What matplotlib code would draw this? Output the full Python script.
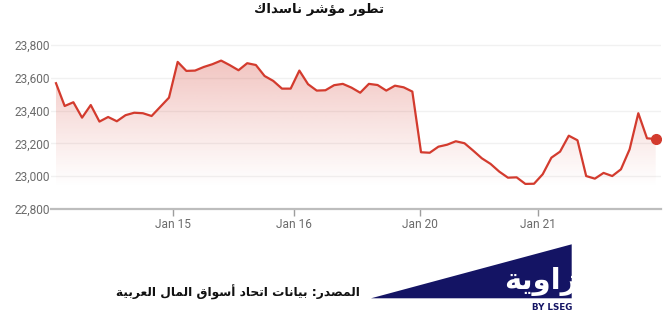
import numpy as np
import matplotlib
matplotlib.use("Agg")
import matplotlib.pyplot as plt
from matplotlib.patches import Polygon
from matplotlib.colors import to_rgb

# ---------------- data ----------------
title_text = "تطور مؤشر ناسداك"
source_text = "المصدر: بيانات اتحاد أسواق المال العربية"
logo_text = "زاوية"
logo_sub = "BY LSEG"

# Nasdaq composite, 30-minute points (14 per session), Jan 14 -> Jan 22
values = [
    23567, 23428, 23451, 23357, 23434, 23333, 23361, 23335, 23372, 23387, 23384, 23367, 23423, 23479,
    23697, 23642, 23644, 23666, 23683, 23705, 23677, 23646, 23689, 23678, 23611, 23581, 23534, 23534,
    23644, 23561, 23522, 23524, 23555, 23563, 23540, 23509, 23563, 23556, 23522, 23552, 23542, 23516,
    23146, 23143, 23180, 23192, 23213, 23201, 23156, 23109, 23075, 23028, 22991, 22993, 22953, 22954,
    23012, 23113, 23150, 23247, 23219, 23001, 22985, 23020, 23001, 23042, 23164, 23384, 23231, 23227,
]
tick_labels = ["Jan 15", "Jan 16", "Jan 20", "Jan 21"]
tick_pos = [13.43, 27.42, 41.89, 55.43]
y_ticks = [22800, 23000, 23200, 23400, 23600, 23800]

# ---------------- arabic shaping (presentation forms, visual order) ----------------
FORMS = {
    'ا': ('\uFE8D', '\uFE8E', None, None),
    'أ': ('\uFE83', '\uFE84', None, None),
    'ب': ('\uFE8F', '\uFE90', '\uFE91', '\uFE92'),
    'ة': ('\uFE93', '\uFE94', None, None),
    'ت': ('\uFE95', '\uFE96', '\uFE97', '\uFE98'),
    'ح': ('\uFEA1', '\uFEA2', '\uFEA3', '\uFEA4'),
    'د': ('\uFEA9', '\uFEAA', None, None),
    'ر': ('\uFEAD', '\uFEAE', None, None),
    'ز': ('\uFEAF', '\uFEB0', None, None),
    'س': ('\uFEB1', '\uFEB2', '\uFEB3', '\uFEB4'),
    'ش': ('\uFEB5', '\uFEB6', '\uFEB7', '\uFEB8'),
    'ص': ('\uFEB9', '\uFEBA', '\uFEBB', '\uFEBC'),
    'ط': ('\uFEC1', '\uFEC2', '\uFEC3', '\uFEC4'),
    'ع': ('\uFEC9', '\uFECA', '\uFECB', '\uFECC'),
    'ق': ('\uFED5', '\uFED6', '\uFED7', '\uFED8'),
    'ك': ('\uFED9', '\uFEDA', '\uFEDB', '\uFEDC'),
    'ل': ('\uFEDD', '\uFEDE', '\uFEDF', '\uFEE0'),
    'م': ('\uFEE1', '\uFEE2', '\uFEE3', '\uFEE4'),
    'ن': ('\uFEE5', '\uFEE6', '\uFEE7', '\uFEE8'),
    'و': ('\uFEED', '\uFEEE', None, None),
    'ؤ': ('\uFE85', '\uFE86', None, None),
    'ي': ('\uFEF1', '\uFEF2', '\uFEF3', '\uFEF4'),
}


def shape(text):
    out = []
    for i, c in enumerate(text):
        if c not in FORMS:
            out.append(c)
            continue
        prev = text[i - 1] if i > 0 else None
        nxt = text[i + 1] if i + 1 < len(text) else None
        jp = prev in FORMS and FORMS[prev][2] is not None
        jn = FORMS[c][2] is not None and nxt in FORMS
        iso, fin, ini, med = FORMS[c]
        out.append(med if (jp and jn) else fin if jp else ini if jn else iso)
    return ''.join(reversed(out))


# ---------------- figure ----------------
W, H = 672, 318
fig = plt.figure(figsize=(W / 100, H / 100), dpi=100)


def fx(px):
    return px / W


def fy(py):
    return (H - py) / H


ax_left, ax_right = 50.6, 661.0
ax_bottom_px, ax_top_px = 209.0, 36.0
ax = fig.add_axes([fx(ax_left), fy(ax_bottom_px), fx(ax_right - ax_left), (ax_bottom_px - ax_top_px) / H])

x = np.arange(len(values))
line_color = '#d33b2e'
y0 = 22800
y1 = y0 + (ax_bottom_px - ax_top_px) / 32.8 * 200
xlim = (-0.62, len(values) - 1 + 0.61)

# gridlines
for yt in y_ticks[1:]:
    ax.axhline(yt, color='#f1f1f1', lw=1.0, zorder=0)

# gradient fill under line
verts = [(x[0], y0)] + list(zip(x, values)) + [(x[-1], y0)]
poly = Polygon(verts, closed=True, facecolor='none', edgecolor='none', transform=ax.transData)
ax.add_patch(poly)
n = 256
ys = np.linspace(y0, 23760, n)
alpha = np.clip((ys - 22930) / (23760 - 22930), 0, 1) ** 1.1 * 0.32
rgba = np.zeros((n, 1, 4))
rgba[..., :3] = to_rgb(line_color)
rgba[:, 0, 3] = alpha
im = ax.imshow(rgba, extent=[xlim[0], xlim[1], y0, 23760], origin='lower', aspect='auto', zorder=1,
               interpolation='bilinear')
im.set_clip_path(poly)

ax.plot(x, values, color=line_color, lw=1.6, zorder=3, solid_joinstyle='round')
ax.plot([x[-1]], [values[-1]], 'o', color=line_color, ms=7, zorder=4)

ax.set_xlim(*xlim)
ax.set_ylim(y0, y1)

for s in ['top', 'right', 'left']:
    ax.spines[s].set_visible(False)
ax.spines['bottom'].set_color('#bdbdbd')
ax.spines['bottom'].set_linewidth(1.6)

ax.set_yticks(y_ticks)
ax.set_yticklabels([f"{v:,}" for v in y_ticks])
ax.tick_params(axis='y', length=0, pad=0.5, labelsize=8.6, labelcolor='#6b6b6b')
ax.set_xticks(tick_pos)
ax.set_xticklabels(tick_labels)
ax.tick_params(axis='x', length=5, width=1, color='#9e9e9e', pad=1.5, labelsize=8.6, labelcolor='#6b6b6b')
for lab in ax.get_xticklabels() + ax.get_yticklabels():
    lab.set_fontfamily('Roboto')

# title
fig.text(fx(319), fy(10), shape(title_text), ha='center', va='center', fontsize=9.6,
         fontweight='bold', family=['DejaVu Sans'], color='#111111')

# source
fig.text(fx(360), fy(292), shape(source_text), ha='right', va='center', fontsize=8.8,
         fontweight='bold', family=['DejaVu Sans'], color='#111111')

# logo
navy = '#141464'
tri = Polygon([(fx(371), fy(298.3)), (fx(571.7), fy(244.3)), (fx(571.7), fy(298.3))], closed=True,
              facecolor=navy, edgecolor='none', transform=fig.transFigure)
fig.add_artist(tri)
lt = fig.text(fx(577), fy(289), shape(logo_text), ha='right', va='baseline', fontsize=21,
              fontweight='bold', family=['DejaVu Sans'], color='white')
lt.set_clip_path(tri)
fig.text(fx(572), fy(307.5), logo_sub, ha='right', va='center', fontsize=6.3, fontweight='bold',
         family=['DejaVu Sans'], color=navy)

fig.savefig('out.png', dpi=100)
